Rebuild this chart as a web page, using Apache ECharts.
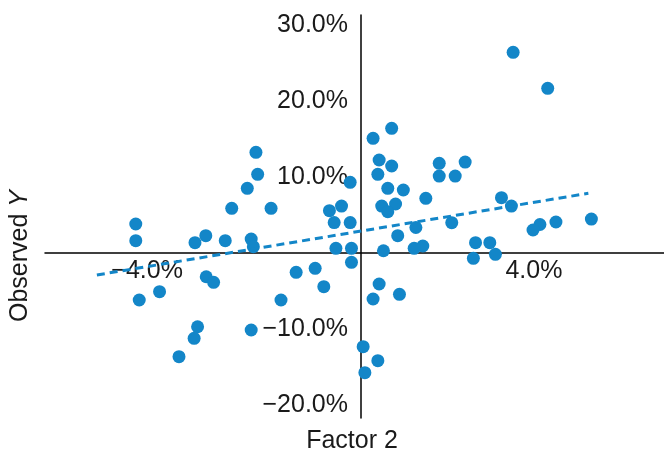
<!DOCTYPE html>
<html>
<head>
<meta charset="utf-8">
<script src="https://cdn.jsdelivr.net/npm/echarts@6/dist/echarts.min.js"></script>
<style>html,body{margin:0;padding:0;background:#fff}#c{width:664px;height:457px}</style>
</head>
<body>
<div id="c"></div>
<script>
// Factor 2 (x, %) and Observed Y (y, %)
const factorX = [3.52,4.32,0.71,0.28,-2.43,0.42,1.81,2.41,0.71,-2.39,0.39,1.81,2.18,-0.25,-2.63,0.62,0.98,3.25,1.50,0.80,0.48,-0.45,3.48,-2.99,-2.08,-0.73,0.62,5.33,-0.25,-0.62,2.10,4.51,4.14,-5.21,1.27,3.98,-3.59,0.85,-2.54,-5.21,-3.14,-3.84,2.65,2.98,1.43,-2.49,1.23,-0.58,-0.22,0.52,3.11,2.60,-0.22,-1.06,-1.50,-3.58,-3.41,0.42,-0.86,-4.66,0.89,0.28,-5.13,-1.85,-3.78,-2.54,-3.86,0.05,-4.21,0.39,0.09];
const observedY = [26.41,21.67,16.41,15.09,13.25,12.24,11.80,11.97,11.45,10.36,10.36,10.13,10.13,9.30,8.51,8.51,8.29,7.28,7.20,6.45,6.18,6.18,6.18,5.88,5.88,5.57,5.43,4.47,4.01,4.01,3.99,4.08,3.75,3.82,3.36,3.03,2.28,2.28,1.84,1.62,1.62,1.36,1.36,1.36,0.92,0.83,0.62,0.62,0.62,0.30,-0.17,-0.70,-1.22,-2.01,-2.54,-3.12,-3.86,-4.08,-4.43,-5.09,-5.43,-6.05,-6.18,-6.18,-9.70,-10.13,-11.22,-12.33,-13.64,-14.17,-15.75];
const trendX = [-6.11, 5.26];
const trendY = [-2.89, 7.86];
const xTickValues = [-4, 4];
const yTickValues = [-20, -10, 10, 20, 30];

const X_MIN = -7.31, X_MAX = 7.01, Y_MIN = -21.71, Y_MAX = 31.32;
const G = {left: 45, right: 0, top: 15, bottom: 39};
const W = 664, H = 457;
const gw = W - G.left - G.right, gh = H - G.top - G.bottom;
// place each axis where the other axis is zero
const yAxisOffset = -((0 - X_MIN) / (X_MAX - X_MIN)) * gw;
const xAxisOffset = -((0 - Y_MIN) / (Y_MAX - Y_MIN)) * gh;

const FONT = "'Liberation Sans', Arial, sans-serif";
const BLUE = '#1386c8';
const TXT = '#1a1a1a';
const fmt = v => (v < 0 ? '\u2212' : '') + Math.abs(v).toFixed(1) + '%';

const chart = echarts.init(document.getElementById('c'), null, {renderer: 'canvas'});
chart.setOption({
  animation: false,
  backgroundColor: '#fff',
  grid: Object.assign({containLabel: false, outerBoundsMode: 'none'}, G),
  xAxis: {
    type: 'value', min: X_MIN, max: X_MAX,
    position: 'bottom', offset: xAxisOffset,
    axisLine: {onZero: false, lineStyle: {color: '#000', width: 1.5}},
    axisTick: {show: false},
    splitLine: {show: false},
    axisLabel: {
      customValues: xTickValues,
      margin: 6,
      color: TXT, fontSize: 25, fontFamily: FONT,
      formatter: v => v < 0 ? '{n|' + fmt(v) + '}' : '{p|' + fmt(v) + '}',
      rich: {
        n: {fontSize: 25, fontFamily: FONT, color: TXT, padding: [0, 82, 0, 0]},
        p: {fontSize: 25, fontFamily: FONT, color: TXT}
      }
    }
  },
  yAxis: {
    type: 'value', min: Y_MIN, max: Y_MAX,
    position: 'left', offset: yAxisOffset,
    axisLine: {onZero: false, lineStyle: {color: '#000', width: 1.5}},
    axisTick: {show: false},
    splitLine: {show: false},
    axisLabel: {
      customValues: yTickValues,
      margin: 13,
      color: TXT, fontSize: 25, fontFamily: FONT,
      formatter: v => fmt(v)
    }
  },
  series: [
    {
      type: 'scatter',
      symbolSize: 13,
      itemStyle: {color: BLUE, opacity: 1},
      data: factorX.map((x, i) => [x, observedY[i]])
    },
    {
      type: 'line',
      symbol: 'none',
      z: 3,
      lineStyle: {color: BLUE, width: 3, type: [8, 5]},
      data: trendX.map((x, i) => [x, trendY[i]])
    }
  ],
  graphic: [
    {type: 'text', x: 352, y: 441, style: {text: 'Factor 2', fontSize: 25, fontFamily: FONT, fill: TXT, align: 'center', verticalAlign: 'middle'}},
    {type: 'text', x: 20, y: 256, rotation: Math.PI / 2,
     style: {text: '{a|Observed }{b|Y}', align: 'center', verticalAlign: 'middle',
       rich: {a: {fontSize: 25, fontFamily: FONT, fill: TXT, color: TXT}, b: {fontSize: 25, fontFamily: FONT, fontStyle: 'italic', fill: TXT, color: TXT}}}}
  ]
});
</script>
</body>
</html>
